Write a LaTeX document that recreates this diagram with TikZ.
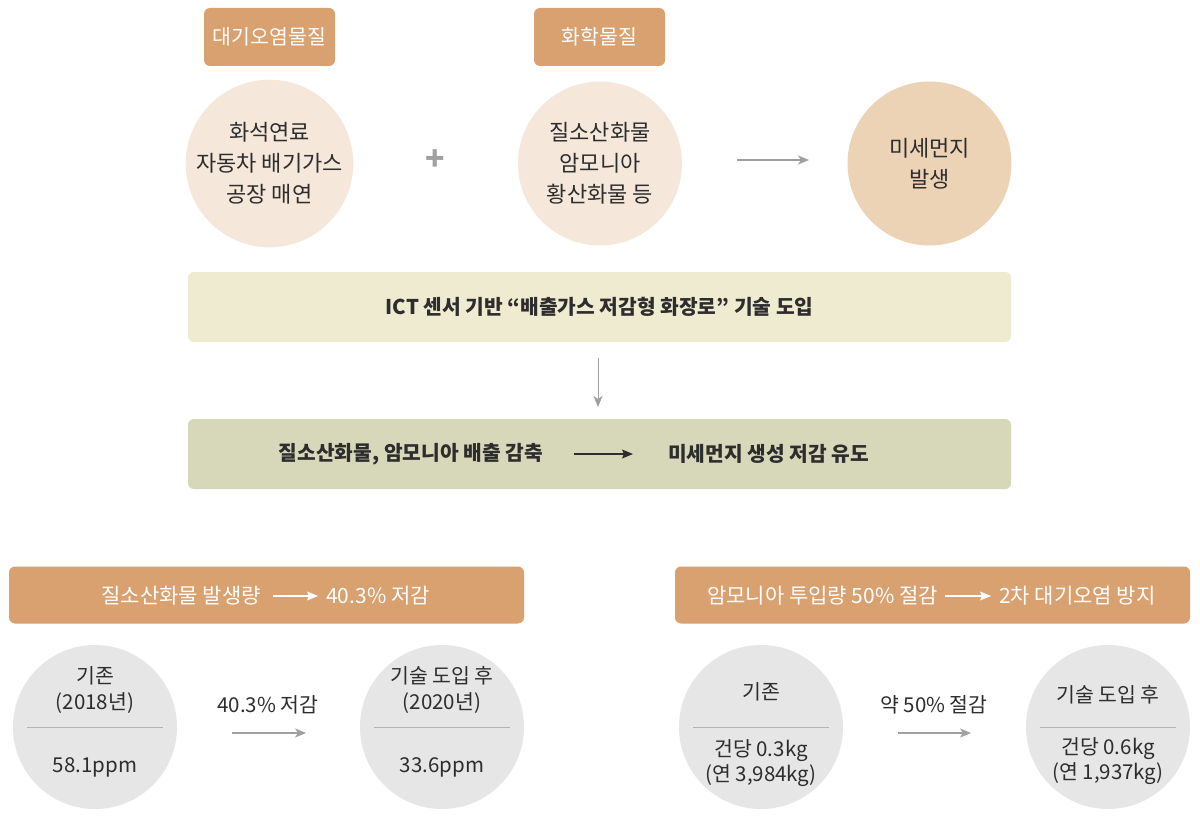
\documentclass[tikz,border=0pt]{standalone}
\usepackage{fontspec}
\setmainfont{Noto Sans CJK KR}
\usetikzlibrary{arrows.meta}
\definecolor{tagc}{RGB}{217,161,112}
\definecolor{lightc}{RGB}{246,231,219}
\definecolor{midc}{RGB}{237,211,181}
\definecolor{ban1}{RGB}{238,235,209}
\definecolor{ban2}{RGB}{215,215,185}
\definecolor{greyc}{RGB}{230,230,230}
\definecolor{arrc}{RGB}{160,160,160}
\definecolor{txt}{RGB}{45,45,45}
\tikzset{
  tagbox/.style={fill=tagc, rounded corners=6pt, minimum width=131pt, minimum height=58pt, text=white, font=\fontsize{20.5}{24}\selectfont, inner sep=0pt},
  topcirc/.style={circle, minimum size=164pt, inner sep=0pt, align=center, text=txt, font=\fontsize{22}{31}\selectfont},
  bancirc/.style={circle, minimum size=164pt, inner sep=0pt, fill=greyc},
  wide/.style={rounded corners=6pt, minimum width=823pt, minimum height=70pt, inner sep=0pt},
  bottomban/.style={fill=tagc, rounded corners=6pt, minimum width=515pt, minimum height=57pt, inner sep=0pt},
  lbl/.style={text=txt, font=\fontsize{20.5}{25.5}\selectfont, inner sep=0pt, align=center},
  wlbl/.style={text=white, font=\fontsize{21}{24}\selectfont, inner sep=0pt},
  blbl/.style={text=txt, font=\bfseries\fontsize{20.3}{24}\selectfont, inner sep=0pt},
  grarrow/.style={draw=arrc, line width=1.3pt, -{Stealth[length=11pt,width=9pt,inset=3pt]}},
  divider/.style={draw=arrc!80, line width=0.8pt}
}
\begin{document}
\begin{tikzpicture}[x=1pt,y=-1pt]
\useasboundingbox[fill=white] (0,0) rectangle (1200,832);
% top tags
\node[tagbox] (tag1) at (269.5,37) {대기오염물질};
\node[tagbox] (tag2) at (599.5,37) {화학물질};
% top circles
\node[topcirc, fill=lightc] (c1) at (269.5,163.5) {화석연료\\자동차 배기가스\\공장 매연};
\node[topcirc, fill=lightc] (c2) at (600,163.5) {질소산화물\\암모니아\\황산화물 등};
\node[topcirc, fill=midc] (c3) at (929.5,163.5) {미세먼지\\발생};
\node[text=arrc, font=\bfseries\fontsize{32}{32}\selectfont, inner sep=0pt] (plus) at (435,160) {+};
\coordinate (a1s) at (737,160);
\coordinate (a1e) at (809,160);
\draw[grarrow] (a1s) -- (a1e);
% banners
\node[wide, fill=ban1] (b1) at (599.5,307) {};
\node[blbl] (b1t) at (b1.center) {ICT 센서 기반 “배출가스 저감형 화장로” 기술 도입};
\node[wide, fill=ban2] (b2) at (599.5,454) {};
\coordinate (d1) at (598,358);
\coordinate (d2) at (598,407);
\draw[grarrow, line width=1pt] (d1) -- (d2);
\node[blbl, anchor=east] (b2l) at (543,454) {질소산화물, 암모니아 배출 감축};
\node[blbl, anchor=west] (b2r) at (668,454) {미세먼지 생성 저감 유도};
\coordinate (b2a) at (574,454);
\coordinate (b2b) at (633,454);
\draw[draw=txt, line width=1.2pt, -{Stealth[length=11pt,width=9pt,inset=2pt]}] (b2a) -- (b2b);
% bottom banners
\node[bottomban] (bl) at (266.5,595) {};
\node[wlbl, anchor=east] (blt1) at (261,596) {질소산화물 발생량};
\node[wlbl, anchor=west] (blt2) at (326,596) {40.3\% 저감};
\coordinate (bla) at (273,596);
\coordinate (blb) at (318,596);
\draw[draw=white, line width=1.2pt, -{Stealth[length=11pt,width=9pt,inset=2pt]}] (bla) -- (blb);
\node[bottomban] (br) at (932.5,595) {};
\node[wlbl, anchor=east] (brt1) at (938,596) {암모니아 투입량 50\% 절감};
\node[wlbl, anchor=west] (brt2) at (999,596) {2차 대기오염 방지};
\coordinate (bra) at (945,596);
\coordinate (brb) at (991,596);
\draw[draw=white, line width=1.2pt, -{Stealth[length=11pt,width=9pt,inset=2pt]}] (bra) -- (brb);
% bottom left group
\node[bancirc] (g1) at (95,727) {};
\node[bancirc] (g2) at (442,727) {};
\draw[divider] ([xshift=-68pt]g1.center) -- ([xshift=68pt]g1.center);
\draw[divider] ([xshift=-68pt]g2.center) -- ([xshift=68pt]g2.center);
\node[lbl] (g1a) at (95,690) {기존\\(2018년)};
\node[lbl] (g1b) at (95,767) {58.1ppm};
\node[lbl] (g2a) at (442,690) {기술 도입 후\\(2020년)};
\node[lbl] (g2b) at (442,767) {33.6ppm};
\node[lbl] (m1) at (268,705) {40.3\% 저감};
\coordinate (m1s) at (232,733);
\coordinate (m1e) at (306,733);
\draw[grarrow] (m1s) -- (m1e);
% bottom right group
\node[bancirc] (g3) at (761,727) {};
\node[bancirc] (g4) at (1108,727) {};
\draw[divider] ([xshift=-68pt]g3.center) -- ([xshift=68pt]g3.center);
\draw[divider] ([xshift=-68pt]g4.center) -- ([xshift=68pt]g4.center);
\node[lbl] (g3a) at (761,692) {기존};
\node[lbl] (g3b) at (761,763) {건당 0.3kg\\(연 3,984kg)};
\node[lbl] (g4a) at (1108,695) {기술 도입 후};
\node[lbl] (g4b) at (1108,761) {건당 0.6kg\\(연 1,937kg)};
\node[lbl] (m2) at (934,705) {약 50\% 절감};
\coordinate (m2s) at (898,733);
\coordinate (m2e) at (971,733);
\draw[grarrow] (m2s) -- (m2e);
\end{tikzpicture}
\end{document}
